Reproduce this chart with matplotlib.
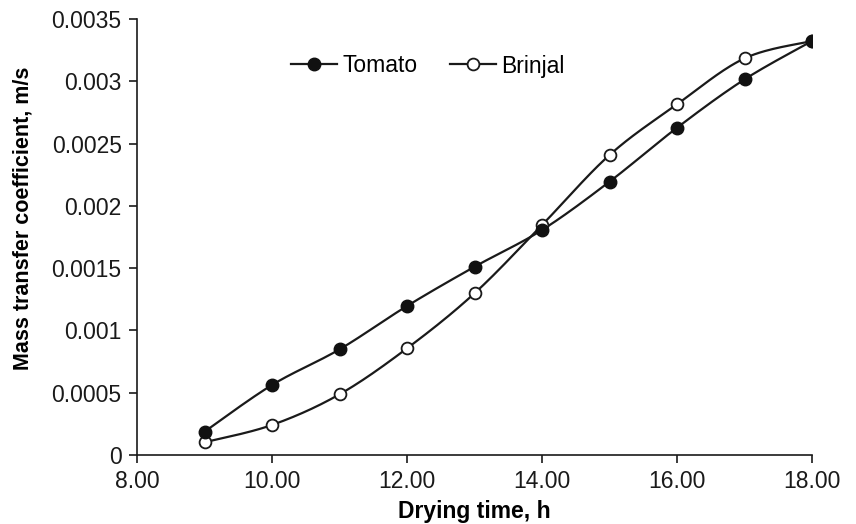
import numpy as np
import matplotlib
matplotlib.use("Agg")
import matplotlib.pyplot as plt

plt.rcParams['font.family'] = ['Liberation Sans', 'DejaVu Sans']

# drying time (h) and mass transfer coefficient (m/s)
time_h = [9, 10, 11, 12, 13, 14, 15, 16, 17, 18]
tomato = [0.000187, 0.000562, 0.000848, 0.001196, 0.001511,
          0.001806, 0.002194, 0.002627, 0.003015, 0.003323]
brinjal = [0.000102, 0.000241, 0.000487, 0.000856, 0.001298,
           0.001846, 0.002408, 0.002815, 0.003184, 0.003323]

x_ticks = [8, 10, 12, 14, 16, 18]
y_ticks = [0, 0.0005, 0.001, 0.0015, 0.002, 0.0025, 0.003, 0.0035]
y_tick_labels = ['0', '0.0005', '0.001', '0.0015', '0.002', '0.0025', '0.003', '0.0035']


def smooth(xs, ys, n=30):
    # cubic bezier through the points, control points from neighbours (1/6 rule)
    p = np.column_stack([xs, ys]).astype(float)
    p_ext = np.vstack([p[0], p, p[-1]])
    out = [p[0]]
    t = np.linspace(0, 1, n)[1:, None]
    for i in range(len(p) - 1):
        p0, p1, p2, p3 = p_ext[i], p_ext[i + 1], p_ext[i + 2], p_ext[i + 3]
        b1 = p1 + (p2 - p0) / 6.0
        b2 = p2 - (p3 - p1) / 6.0
        seg = ((1 - t) ** 3) * p1 + 3 * ((1 - t) ** 2) * t * b1 \
            + 3 * (1 - t) * t ** 2 * b2 + t ** 3 * p2
        out.extend(seg)
    out = np.array(out)
    return out[:, 0], out[:, 1]


fig = plt.figure(figsize=(8.56, 5.24), dpi=100)
ax = fig.add_axes([137 / 856, 1 - 455 / 524, 675 / 856, 436 / 524])

sx, sy = smooth(time_h, brinjal)
ax.plot(sx, sy, color='#1a1a1a', lw=1.6, zorder=2)
ax.plot(time_h, brinjal, ls='none', marker='o', ms=8.5, mfc='white',
        mec='#1a1a1a', mew=1.3, zorder=3)
sx, sy = smooth(time_h, tomato)
ax.plot(sx, sy, color='#1a1a1a', lw=1.6, zorder=2)
ax.plot(time_h, tomato, ls='none', marker='o', ms=9, mfc='#111111',
        mec='#111111', zorder=4)

# legend proxies
h1, = ax.plot([], [], color='#1a1a1a', lw=1.6, marker='o', ms=9,
              mfc='#111111', mec='#111111', label='Tomato')
h2, = ax.plot([], [], color='#1a1a1a', lw=1.6, marker='o', ms=8.5,
              mfc='white', mec='#1a1a1a', mew=1.3, label='Brinjal')
ax.legend(handles=[h1, h2], ncol=2, frameon=False, fontsize=16.5,
          handlelength=2.0, columnspacing=1.4, handletextpad=0.25,
          borderpad=0, borderaxespad=0,
          loc='center', bbox_to_anchor=((428 - 137) / 675, (455 - 66) / 436))

ax.set_xlim(8, 18)
ax.set_ylim(0, 0.0035)
ax.set_xticks(x_ticks)
ax.set_xticklabels(['%.2f' % v for v in x_ticks])
ax.set_yticks(y_ticks)
ax.set_yticklabels(y_tick_labels)
ax.tick_params(direction='out', length=6, width=1.2, labelsize=16.5,
               colors='#1a1a1a', pad=5)
for s in ['top', 'right']:
    ax.spines[s].set_visible(False)
for s in ['left', 'bottom']:
    ax.spines[s].set_linewidth(1.2)
    ax.spines[s].set_color('#1a1a1a')

ax.set_xlabel('Drying time, h', fontsize=16.5, fontweight='bold', labelpad=5)
ax.set_ylabel('Mass transfer coefficient, m/s', fontsize=15.5,
              fontweight='bold')
ax.yaxis.set_label_coords((34 - 137) / 675, (455 - 218) / 436)

fig.savefig('out.png', dpi=100)
